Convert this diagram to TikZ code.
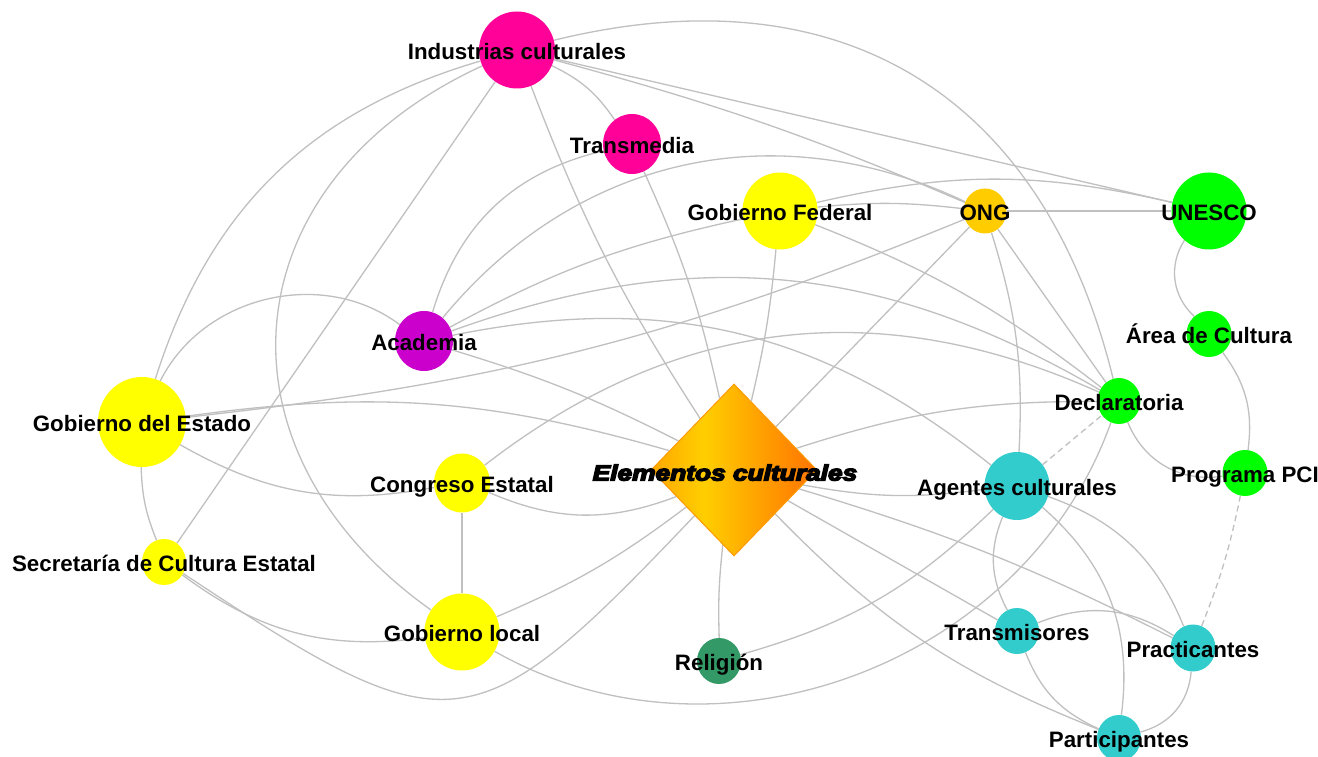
\documentclass[tikz,border=0pt]{standalone}
\usepackage{fontspec}
\setmainfont{Liberation Sans}
\newfontfamily\ecfont{Liberation Sans}[UprightFont={* Bold Italic}, UprightFeatures={FakeBold=6}]
\usepackage{graphicx}
\usetikzlibrary{shapes.geometric}
\pgfdeclarelayer{bg}
\pgfsetlayers{bg,main}
\definecolor{pinkc}{RGB}{255,0,153}
\definecolor{purplec}{RGB}{204,0,204}
\definecolor{yellowc}{RGB}{255,255,0}
\definecolor{ongc}{RGB}{255,204,0}
\definecolor{greenc}{RGB}{0,255,0}
\definecolor{tealc}{RGB}{51,204,204}
\definecolor{relc}{RGB}{51,153,102}
\definecolor{edgec}{RGB}{192,192,192}
\definecolor{ecL}{RGB}{255,168,0}
\definecolor{ecM}{RGB}{255,206,0}
\definecolor{ecR}{RGB}{255,115,0}
\definecolor{ecB}{RGB}{255,153,0}
\pgfdeclarehorizontalshading{ecshade}{100bp}{color(0bp)=(ecL); color(25bp)=(ecL); color(41bp)=(ecM); color(75bp)=(ecR); color(100bp)=(ecR)}
\tikzset{
  vtx/.style={ellipse, inner sep=0pt, draw=none},
  edge/.style={draw=edgec, line width=1.3bp},
  dashededge/.style={edge, dash pattern=on 6bp off 4bp},
  lbl/.style={font=\bfseries\fontsize{22.4}{24}\selectfont, text height=16bp, text depth=0bp, inner sep=0pt, yshift=-1.5bp},
  eclbl/.style={font=\ecfont\fontsize{22}{24}\selectfont, text height=16bp, text depth=0bp, inner sep=0pt, xshift=-9bp, yshift=-2.5bp}
}
\begin{document}
\begin{tikzpicture}[x=1bp,y=1bp]
\useasboundingbox (0,0) rectangle (1318,756);
% nodes
\node[vtx, fill=pinkc, minimum width=76bp, minimum height=77bp, label={[lbl]center:Industrias culturales}] (IC) at (517,706) {};
\node[vtx, fill=pinkc, minimum width=58bp, minimum height=60bp, label={[lbl]center:Transmedia}] (TM) at (632,612) {};
\node[vtx, fill=yellowc, minimum width=75bp, minimum height=77bp, label={[lbl]center:Gobierno Federal}] (GF) at (780,545) {};
\node[vtx, fill=ongc, minimum width=43bp, minimum height=45bp, label={[lbl]center:ONG}] (ONG) at (985,545) {};
\node[vtx, fill=greenc, minimum width=75bp, minimum height=77bp, label={[lbl]center:UNESCO}] (UN) at (1209,545) {};
\node[vtx, fill=greenc, minimum width=45bp, minimum height=46bp, label={[lbl]center:Área de Cultura}] (AREA) at (1209,422) {};
\node[vtx, fill=greenc, minimum width=43bp, minimum height=46bp, label={[lbl]center:Declaratoria}] (DEC) at (1119,355) {};
\node[vtx, fill=greenc, minimum width=45bp, minimum height=46bp, label={[lbl]center:Programa PCI}] (PCI) at (1245,283) {};
\node[vtx, fill=tealc, minimum width=65bp, minimum height=68bp, label={[lbl]center:Agentes culturales}] (AC) at (1017,270) {};
\node[vtx, fill=tealc, minimum width=44bp, minimum height=46bp, label={[lbl]center:Transmisores}] (TR) at (1017,125) {};
\node[vtx, fill=tealc, minimum width=45bp, minimum height=47bp, label={[lbl]center:Practicantes}] (PR) at (1193,108) {};
\node[vtx, fill=tealc, minimum width=44bp, minimum height=46bp, label={[lbl]center:Participantes}] (PA) at (1119,18) {};
\node[vtx, fill=relc, minimum width=44bp, minimum height=46bp, label={[lbl]center:Religión}] (REL) at (719,95) {};
\node[vtx, fill=purplec, minimum width=58bp, minimum height=60bp, label={[lbl]center:Academia}] (ACA) at (424,415) {};
\node[vtx, fill=yellowc, minimum width=88bp, minimum height=90bp, label={[lbl]center:Gobierno del Estado}] (GE) at (142,334) {};
\node[vtx, fill=yellowc, minimum width=56bp, minimum height=59bp, label={[lbl]center:Congreso Estatal}] (CE) at (462,273) {};
\node[vtx, fill=yellowc, minimum width=44bp, minimum height=46bp, label={[lbl]center:Secretaría de Cultura Estatal}] (SCE) at (164,194) {};
\node[vtx, fill=yellowc, minimum width=75bp, minimum height=77bp, label={[lbl]center:Gobierno local}] (GL) at (462,124) {};
\node[diamond, inner sep=0pt, minimum width=166bp, minimum height=172bp, shading=ecshade, draw=ecB, line width=1bp, label={[eclbl]center:\scalebox{1.2}[1]{Elementos culturales}}] (EC) at (734,286) {};
% edges
\begin{pgfonlayer}{bg}
\fill[white] (0,0) rectangle (1318,756);
\draw[edge] (GE) to[bend left=28] (IC);
\draw[edge] (IC) to[bend right=60, looseness=1.3] (GL);
\draw[edge] (IC) -- (SCE);
\draw[edge] (IC) to[bend right=6] (EC);
\draw[edge] (IC) to[bend left=15] (TM);
\draw[edge] (IC) to[bend left=4] (ONG);
\draw[edge] (IC) -- (UN);
\draw[edge] (IC) to[bend left=45, looseness=1.15] (DEC);
\draw[edge] (TM) to[bend right=30] (ACA);
\draw[edge] (TM) to[bend left=6] (EC);
\draw[edge] (GF) to[bend left=4] (EC);
\draw[edge] (GF) to[bend right=8] (ACA);
\draw[edge] (GF) to[bend left=6] (ONG);
\draw[edge] (GF) to[bend left=13] (UN);
\draw[edge] (GF) to[bend left=8] (DEC);
\draw[edge] (ONG) -- (UN);
\draw[edge] (ONG) -- (DEC);
\draw[edge] (ONG) to[bend left=10] (AC);
\draw[edge] (ONG) -- (EC);
\draw[edge] (GE) to[bend right=8] (ONG);
\draw[edge] (GE) to[bend left=12] (EC);
\draw[edge] (GE) to[bend right=20] (CE);
\draw[edge] (GE) to[bend right=10] (SCE);
\draw[edge] (GE) to[bend left=50] (ACA);
\draw[edge] (SCE) to[bend right=22] (GL);
\draw[edge] (SCE) to[bend right=40, looseness=1.6] (EC);
\draw[edge] (CE) to[bend right=22] (EC);
\draw[edge] (CE) -- (GL);
\draw[edge] (CE) to[bend left=31] (DEC);
\draw[edge] (ACA) to[bend left=38] (ONG);
\draw[edge] (ACA) to[bend left=25] (DEC);
\draw[edge] (ACA) to[bend left=25] (AC);
\draw[edge] (ACA) to[bend left=5] (EC);
\draw[edge] (GL) to[bend right=7] (EC);
\draw[edge] (GL) to[bend right=50, looseness=1.0] (DEC);
\draw[edge] (EC) to[bend right=4] (REL);
\draw[edge] (EC) to[bend right=12] (PA);
\draw[edge] (EC) -- (TR);
\draw[edge] (EC) to[bend left=5] (PR);
\draw[edge] (EC) to[bend right=9] (AC);
\draw[edge] (EC) to[bend left=9] (DEC);
\draw[dashededge] (AC) -- (DEC);
\draw[edge] (AC) to[bend left=14] (REL);
\draw[edge] (AC) to[bend right=25] (TR);
\draw[edge] (AC) to[bend left=28] (PA);
\draw[edge] (AC) to[bend left=24] (PR);
\draw[edge] (TR) to[bend left=27] (PR);
\draw[edge] (TR) to[bend right=22] (PA);
\draw[edge] (PR) to[bend left=35] (PA);
\draw[edge] (DEC) to[bend right=38] (PCI);
\draw[dashededge] (PCI) to[bend left=5] (PR);
\draw[edge] (UN) to[bend right=40] (AREA);
\draw[edge] (AREA) to[bend left=22] (PCI);
\end{pgfonlayer}
\end{tikzpicture}
\end{document}
